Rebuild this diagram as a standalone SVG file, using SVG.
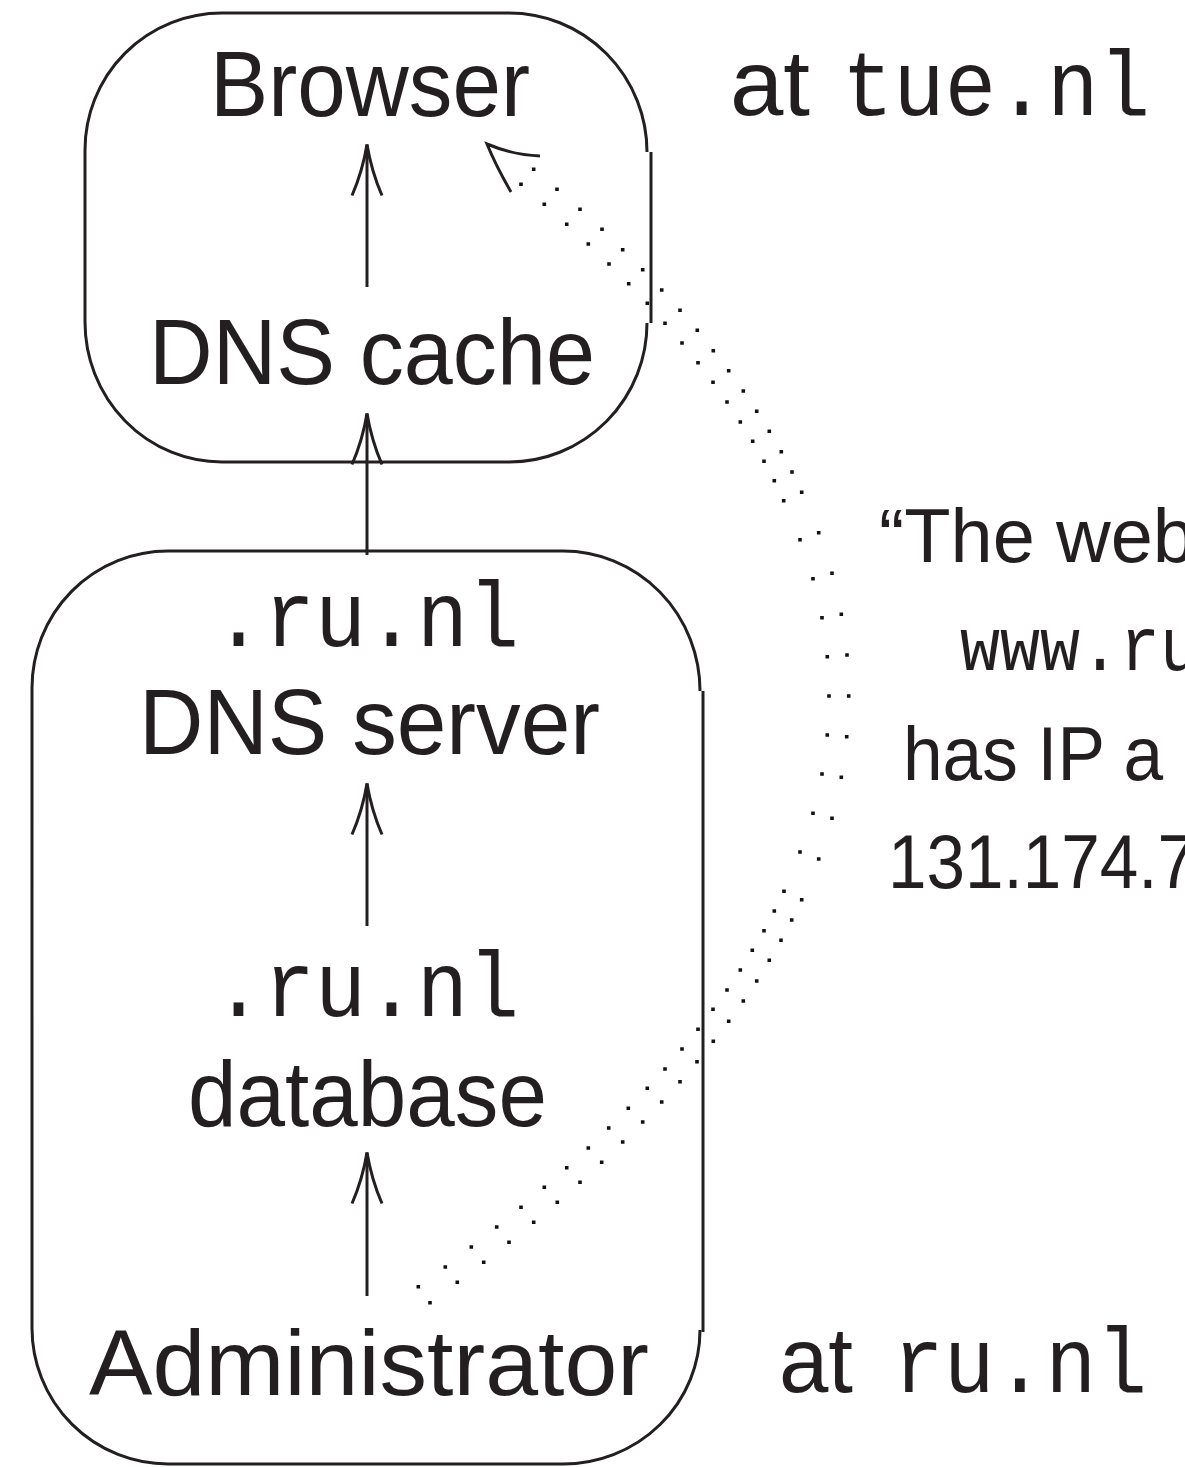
<svg xmlns="http://www.w3.org/2000/svg" width="1185" height="1467" viewBox="0 0 1185 1467">
  <style>
    .frame { fill: none; stroke: #231f20; stroke-width: 3; }
    .edge { fill: none; stroke: #231f20; stroke-width: 3; }
    .dots { fill: none; stroke: #111; stroke-width: 3.6; }
    .sans { font-family: "Liberation Sans", Arial, sans-serif; fill: #231f20; }
    .mono { font-family: "Liberation Mono", "Courier New", monospace; fill: #231f20; }
    .big { font-size: 92px; }
    .small { font-size: 76px; }
  </style>
  <defs>
    <!-- open, slightly curved arrowhead; tip at the path end -->
    <marker id="head" markerUnits="userSpaceOnUse" viewBox="-56 -20 60 40" markerWidth="60" markerHeight="40" refX="0" refY="0" orient="auto" overflow="visible">
      <path d="M-51,-15 Q-27,-4.5 0,0 Q-27,4.5 -51,15" fill="none" stroke="#231f20" stroke-width="3"/>
    </marker>
  </defs>

  <rect width="1185" height="1467" fill="#fff"/>

  <!-- tue.nl side: browser and its DNS cache -->
  <g id="tue-box">
    <path class="frame" d="M85,150 A137,137 0 0 1 222,13 H509 A138,139 0 0 1 647,152 M647,323 A138,139 0 0 1 509,462 H222 A137,140 0 0 1 85,322 V150"/>
    <path class="frame" d="M651,152 V323" stroke-width="3.4"/>
  </g>
  <g id="browser">
    <text class="sans big" x="210" y="116" textLength="320" lengthAdjust="spacingAndGlyphs">Browser</text>
  </g>
  <g id="dns-cache">
    <text class="sans big" x="149" y="384" textLength="446" lengthAdjust="spacingAndGlyphs">DNS cache</text>
  </g>
  <g id="label-tue">
    <text class="sans big" x="730" y="115" textLength="80" lengthAdjust="spacingAndGlyphs">at</text>
    <text class="mono big" x="842" y="115" textLength="308" lengthAdjust="spacingAndGlyphs">tue.nl</text>
  </g>

  <!-- ru.nl side: DNS server, database, administrator -->
  <g id="ru-box">
    <path class="frame" d="M32,688 A136,137 0 0 1 168,551 H563 A137,140 0 0 1 700,691 M700,1330 A137,134 0 0 1 563,1464 H168 A136,136 0 0 1 32,1328 V688"/>
    <path class="frame" d="M703,691 V1332" stroke-width="3.4"/>
  </g>
  <g id="dns-server">
    <text class="mono big" x="213" y="646" textLength="306" lengthAdjust="spacingAndGlyphs">.ru.nl</text>
    <text class="sans big" x="139" y="754" textLength="461" lengthAdjust="spacingAndGlyphs">DNS server</text>
  </g>
  <g id="database">
    <text class="mono big" x="213" y="1016" textLength="306" lengthAdjust="spacingAndGlyphs">.ru.nl</text>
    <text class="sans big" x="188" y="1126" textLength="359" lengthAdjust="spacingAndGlyphs">database</text>
  </g>
  <g id="administrator">
    <text class="sans big" x="89" y="1395" textLength="560" lengthAdjust="spacingAndGlyphs">Administrator</text>
  </g>
  <g id="label-ru">
    <text class="sans big" x="779" y="1392" textLength="74" lengthAdjust="spacingAndGlyphs">at</text>
    <text class="mono big" x="893" y="1392" textLength="254" lengthAdjust="spacingAndGlyphs">ru.nl</text>
  </g>

  <!-- message text -->
  <g id="message">
    <text class="sans small" x="879" y="562" textLength="316" lengthAdjust="spacingAndGlyphs">“The web</text>
    <text class="mono small" x="960" y="670" textLength="240" lengthAdjust="spacingAndGlyphs">www.ru</text>
    <text class="sans small" x="903" y="780" textLength="260" lengthAdjust="spacingAndGlyphs">has IP a</text>
    <text class="sans small" x="888" y="888" textLength="308" lengthAdjust="spacingAndGlyphs">131.174.7</text>
  </g>

  <g id="connectors">
    <!-- solid data flow arrows -->
    <path class="edge" d="M367,287 V144.5" marker-end="url(#head)"/>
    <path class="edge" d="M367,555 V413.5" marker-end="url(#head)"/>
    <path class="edge" d="M367,926 V783.5" marker-end="url(#head)"/>
    <path class="edge" d="M367,1296 V1152.5" marker-end="url(#head)"/>

    <!-- dotted message path, administrator to browser (two rows of dots) -->
    <path class="dots" d="M531.9,169.3h3.6M555.2,189.3h3.6M578.2,209.3h3.6M600.2,229.3h3.6M620.9,249.7h3.6M640.9,269.7h3.6M659.9,290h3.6M678.2,310.3h3.6M695.5,330.3h3.6M711.5,350.7h3.6M726.9,370.7h3.6M741.5,391h3.6M754.9,411.3h3.6M767.5,431.3h3.6M779.5,451.7h3.6M790.2,472h3.6M799.9,492.3h3.6M816.9,532.7h3.6M830.2,573.3h3.6M839.5,614.3h3.6M845.2,655h3.6M846.9,696h3.6M844.9,736.7h3.6M839.5,777.3h3.6M830.2,818.3h3.6M816.9,859h3.6M799.9,899.7h3.6M789.9,920h3.6M779.2,940.3h3.6M767.5,960.3h3.6M754.9,981h3.6M741.5,1001h3.6M726.9,1021.3h3.6M711.5,1041.3h3.6M695.2,1061.7h3.6M678.2,1081.7h3.6M659.9,1102h3.6M640.9,1122h3.6M620.9,1142h3.6M599.9,1162.3h3.6M578.2,1182.3h3.6M555.5,1202.3h3.6M531.9,1222.3h3.6M507.2,1242.3h3.6M481.9,1262.3h3.6M455.5,1282.3h3.6M428.2,1302.7h3.6"/>
    <path class="dots" d="M519.2,184.3h3.6M542.5,204.3h3.6M564.9,224.3h3.6M586.5,244h3.6M607.2,264h3.6M626.9,283.7h3.6M645.5,303.3h3.6M663.2,323.3h3.6M680.2,343h3.6M696.2,362.7h3.6M711.2,382.3h3.6M725.2,402h3.6M738.5,422h3.6M750.9,441.3h3.6M762.2,461.3h3.6M772.5,480.7h3.6M781.9,500.7h3.6M798.2,539.7h3.6M811.2,578.7h3.6M820.2,617.7h3.6M825.5,656.7h3.6M827.2,696h3.6M825.5,735h3.6M820.2,774h3.6M811.2,813.3h3.6M798.2,852h3.6M782.2,891.3h3.6M772.5,911h3.6M762.2,930.7h3.6M750.5,950.3h3.6M738.5,970h3.6M725.2,990h3.6M711.2,1009.3h3.6M696.2,1029.3h3.6M680.2,1049h3.6M663.2,1069h3.6M645.5,1088.3h3.6M626.5,1108.3h3.6M606.9,1128h3.6M586.5,1148h3.6M564.9,1167.7h3.6M542.5,1187.3h3.6M519.2,1207.3h3.6M494.9,1227h3.6M469.5,1247h3.6M443.5,1267h3.6M416.5,1286.7h3.6"/>
    <path class="edge" d="M540,156 Q513,155 487,144 Q495.5,165 511,192"/>
  </g>
</svg>
